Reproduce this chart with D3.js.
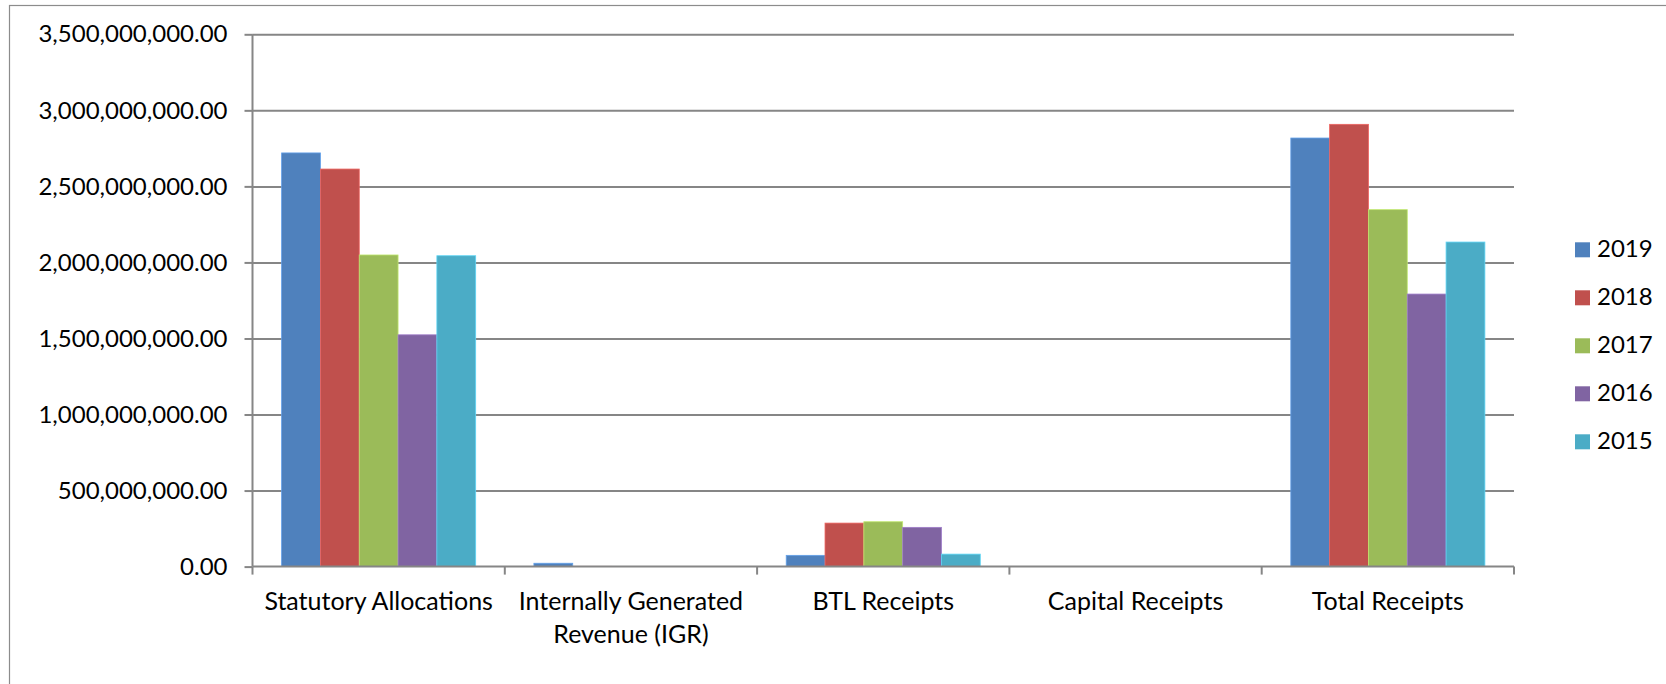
<!DOCTYPE html>
<html>
<head>
<meta charset="utf-8">
<script src="https://cdn.jsdelivr.net/npm/d3@7"></script>
<style>
  html, body { margin: 0; padding: 0; background: #fff; overflow: hidden; }
  svg { display: block; }
  text { font-family: Lato, "Open Sans", sans-serif; fill: #000; }
</style>
</head>
<body>
<svg id="chart" width="1666" height="684"></svg>
<script>
const categories = ["Statutory Allocations", "Internally Generated Revenue (IGR)", "BTL Receipts", "Capital Receipts", "Total Receipts"]
const years = ["2019", "2018", "2017", "2016", "2015"]
const colors = ["#4F81BD", "#C0504D", "#9BBB59", "#8064A2", "#4BACC6"]

// one array per year, same order as categories
const v2019 = [2720000000, 22000000, 74000000, 0, 2818000000]
const v2018 = [2614000000, 1500000, 286000000, 0, 2908000000]
const v2017 = [2049000000, 0, 295000000, 0, 2347000000]
const v2016 = [1524000000, 1000000, 258000000, 0, 1792000000]
const v2015 = [2044000000, 0, 82000000, 0, 2134000000]

const yTicks = [0, 500000000, 1000000000, 1500000000, 2000000000, 2500000000, 3000000000, 3500000000]

const seriesValues = [v2019, v2018, v2017, v2016, v2015]
const rows = categories.map((c, i) => ({
  category: c,
  values: years.map((y, j) => ({ year: y, value: seriesValues[j][i] }))
}))

const svg = d3.select("#chart")
const margin = { left: 252.5, top: 34.3, right: 152, bottom: 117.4 }
const width = 1666
const height = 684

// chart frame
svg.append("rect")
  .attr("x", 9.5)
  .attr("y", 5.5)
  .attr("width", 1700)
  .attr("height", 700)
  .attr("fill", "#fff")
  .attr("stroke", "#8c8c8c")
  .attr("stroke-width", 1.2)

const x0 = d3.scaleBand()
  .domain(categories)
  .range([margin.left, width - margin.right])
  .padding(0)

// excel gap width 150%
const gap = x0.bandwidth() * 1.5 / (years.length + 1.5)
const x1 = d3.scaleBand()
  .domain(years)
  .range([gap / 2, x0.bandwidth() - gap / 2])
  .padding(0)

const y = d3.scaleLinear()
  .domain([0, 3500000000])
  .range([height - margin.bottom, margin.top])

const color = d3.scaleOrdinal(years, colors)
const fmt = d3.format(",.2f")

// gridlines + y axis
svg.append("g")
  .attr("transform", `translate(${margin.left},0)`)
  .call(d3.axisLeft(y).tickValues(yTicks).tickFormat(fmt).tickSize(8).tickPadding(17))
  .call(g => g.select(".domain").attr("stroke", "#868686").attr("stroke-width", 2).attr("d", `M0,${y(3500000000)}V${y(0)}`))
  .call(g => g.selectAll(".tick line").attr("stroke", "#868686").attr("stroke-width", 2))
  .call(g => g.selectAll(".tick text").attr("font-size", 24).attr("font-family", "Lato, 'Open Sans', sans-serif"))
  .call(g => g.selectAll(".tick").filter(d => d > 0).append("line")
    .attr("x2", width - margin.right - margin.left)
    .attr("stroke", "#868686")
    .attr("stroke-width", 2))

// bars
const group = svg.append("g")
  .selectAll("g")
  .data(rows)
  .join("g")
  .attr("transform", d => `translate(${x0(d.category)},0)`)

group.selectAll("rect")
  .data(d => d.values)
  .join("rect")
  .attr("x", d => x1(d.year))
  .attr("y", d => y(d.value))
  .attr("width", x1.bandwidth())
  .attr("height", d => y(0) - y(d.value))
  .attr("fill", d => color(d.year))
  .attr("stroke", d => d3.color(color(d.year)).brighter(0.6))
  .attr("stroke-width", d => d.value > 0 ? 0.8 : 0)

// x axis line and ticks at category edges
const xAxis = svg.append("g")
xAxis.append("line")
  .attr("x1", margin.left)
  .attr("x2", width - margin.right)
  .attr("y1", y(0))
  .attr("y2", y(0))
  .attr("stroke", "#868686")
  .attr("stroke-width", 2)

xAxis.selectAll(".edge")
  .data(categories.map(c => x0(c)).concat([x0(categories[categories.length - 1]) + x0.bandwidth()]))
  .join("line")
  .attr("class", "edge")
  .attr("x1", d => d)
  .attr("x2", d => d)
  .attr("y1", y(0))
  .attr("y2", y(0) + 8)
  .attr("stroke", "#868686")
  .attr("stroke-width", 2)

// category labels, wrapped to band width
const labels = xAxis.selectAll(".cat")
  .data(categories)
  .join("text")
  .attr("class", "cat")
  .attr("x", d => x0(d) + x0.bandwidth() / 2)
  .attr("y", 610)
  .attr("text-anchor", "middle")
  .attr("font-size", 25)

labels.each(function(d) {
  const t = d3.select(this)
  const words = d.split(" ")
  let line = []
  let tspan = t.append("tspan").attr("x", t.attr("x")).attr("dy", 0)
  for (const w of words) {
    line.push(w)
    tspan.text(line.join(" "))
    if (tspan.node().getComputedTextLength() > x0.bandwidth() - 6 && line.length > 1) {
      line.pop()
      tspan.text(line.join(" "))
      line = [w]
      tspan = t.append("tspan").attr("x", t.attr("x")).attr("dy", 33.3).text(w)
    }
  }
})

// legend
const legend = svg.append("g")
  .selectAll("g")
  .data(years)
  .join("g")
  .attr("transform", (d, i) => `translate(1575,${242.3 + i * 48})`)

legend.append("rect")
  .attr("width", 15)
  .attr("height", 15)
  .attr("fill", d => color(d))

legend.append("text")
  .attr("x", 22)
  .attr("y", 14.4)
  .attr("font-size", 24)
  .text(d => d)
</script>
</body>
</html>
